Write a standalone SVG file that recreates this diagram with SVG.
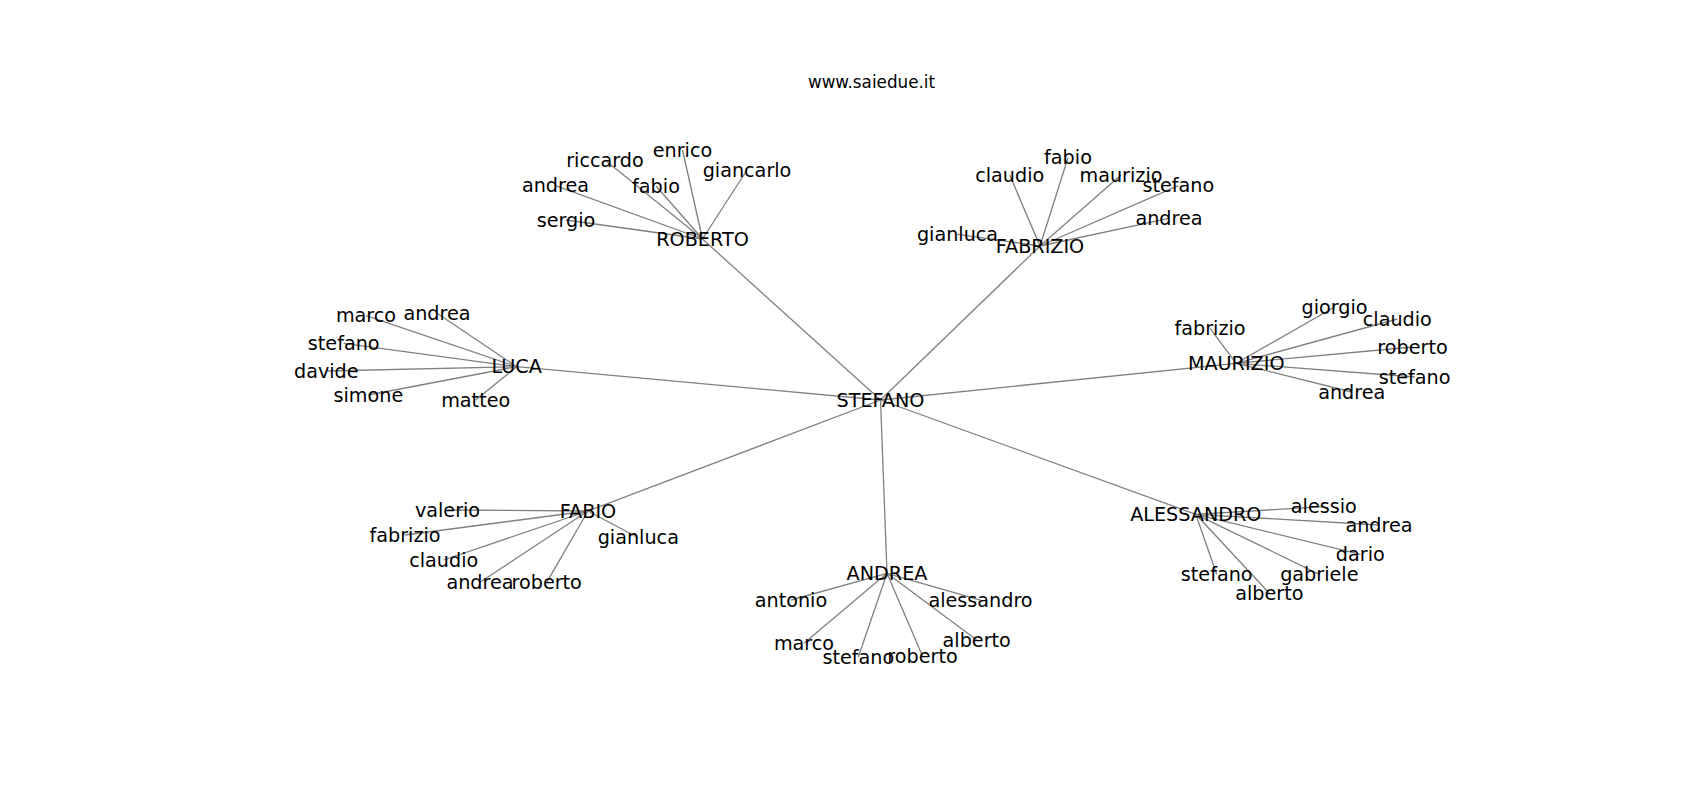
<svg xmlns="http://www.w3.org/2000/svg" width="1700" height="800" viewBox="0 0 1700 800">
<style>
.bg{fill:#ffffff}
.e{stroke:#808080;stroke-width:1.3;fill:none}
.t{font-family:"DejaVu Sans","Liberation Sans",sans-serif;font-size:19.2px;fill:#000;text-anchor:middle}
.title{font-family:"DejaVu Sans","Liberation Sans",sans-serif;font-size:16.8px;fill:#000;text-anchor:middle}
</style>
<rect class="bg" x="0" y="0" width="1700" height="800"/>
<text class="title" x="871.5" y="88">www.saiedue.it</text>
<g id="edges">
<!-- hub edges -->
<line class="e" x1="880.5" y1="400" x2="702.5" y2="239"/>
<line class="e" x1="880.5" y1="400" x2="1040" y2="246"/>
<line class="e" x1="880.5" y1="400" x2="516.7" y2="366.7"/>
<line class="e" x1="880.5" y1="400" x2="1236.2" y2="363.3"/>
<line class="e" x1="880.5" y1="400" x2="588" y2="511"/>
<line class="e" x1="880.5" y1="400" x2="887" y2="573.3"/>
<line class="e" x1="880.5" y1="400" x2="1195.8" y2="514.3"/>
<!-- ROBERTO -->
<line class="e" x1="702.5" y1="239" x2="566" y2="220"/>
<line class="e" x1="702.5" y1="239" x2="555.5" y2="185.7"/>
<line class="e" x1="702.5" y1="239" x2="605" y2="160"/>
<line class="e" x1="702.5" y1="239" x2="656" y2="186"/>
<line class="e" x1="702.5" y1="239" x2="682.5" y2="150"/>
<line class="e" x1="702.5" y1="239" x2="747" y2="170"/>
<!-- FABRIZIO -->
<line class="e" x1="1040" y1="246" x2="957.5" y2="234.3"/>
<line class="e" x1="1040" y1="246" x2="1009.7" y2="175"/>
<line class="e" x1="1040" y1="246" x2="1068" y2="157.7"/>
<line class="e" x1="1040" y1="246" x2="1121" y2="175"/>
<line class="e" x1="1040" y1="246" x2="1178.3" y2="185.7"/>
<line class="e" x1="1040" y1="246" x2="1169" y2="218.3"/>
<!-- LUCA -->
<line class="e" x1="516.7" y1="366.7" x2="366" y2="315.7"/>
<line class="e" x1="516.7" y1="366.7" x2="437" y2="313.3"/>
<line class="e" x1="516.7" y1="366.7" x2="343.7" y2="343.3"/>
<line class="e" x1="516.7" y1="366.7" x2="326.3" y2="371"/>
<line class="e" x1="516.7" y1="366.7" x2="368.4" y2="395"/>
<line class="e" x1="516.7" y1="366.7" x2="475.7" y2="400"/>
<!-- MAURIZIO -->
<line class="e" x1="1236.2" y1="363.3" x2="1210" y2="328.3"/>
<line class="e" x1="1236.2" y1="363.3" x2="1334.6" y2="307"/>
<line class="e" x1="1236.2" y1="363.3" x2="1397.3" y2="319"/>
<line class="e" x1="1236.2" y1="363.3" x2="1412.5" y2="347"/>
<line class="e" x1="1236.2" y1="363.3" x2="1414.6" y2="377"/>
<line class="e" x1="1236.2" y1="363.3" x2="1351.7" y2="392"/>
<!-- FABIO -->
<line class="e" x1="588" y1="511" x2="447.5" y2="510"/>
<line class="e" x1="588" y1="511" x2="405" y2="535"/>
<line class="e" x1="588" y1="511" x2="443.7" y2="560"/>
<line class="e" x1="588" y1="511" x2="480" y2="582.3"/>
<line class="e" x1="588" y1="511" x2="546.7" y2="582.3"/>
<line class="e" x1="588" y1="511" x2="638.3" y2="537.7"/>
<!-- ANDREA -->
<line class="e" x1="887" y1="573.3" x2="791" y2="600"/>
<line class="e" x1="887" y1="573.3" x2="980.5" y2="600"/>
<line class="e" x1="887" y1="573.3" x2="804" y2="643.3"/>
<line class="e" x1="887" y1="573.3" x2="858.3" y2="657"/>
<line class="e" x1="887" y1="573.3" x2="922.5" y2="656"/>
<line class="e" x1="887" y1="573.3" x2="976.7" y2="640"/>
<!-- ALESSANDRO -->
<line class="e" x1="1195.8" y1="514.3" x2="1323.8" y2="506.7"/>
<line class="e" x1="1195.8" y1="514.3" x2="1379" y2="525"/>
<line class="e" x1="1195.8" y1="514.3" x2="1360.3" y2="554.3"/>
<line class="e" x1="1195.8" y1="514.3" x2="1319.3" y2="574.3"/>
<line class="e" x1="1195.8" y1="514.3" x2="1216.7" y2="574.3"/>
<line class="e" x1="1195.8" y1="514.3" x2="1269.3" y2="593.3"/>
</g>
<g transform="translate(0,1.5)">
<g id="STEFANO"><text class="t" x="880.5" y="405">STEFANO</text></g>
<g id="ROBERTO"><text class="t" x="702.5" y="244">ROBERTO</text></g>
<g id="FABRIZIO"><text class="t" x="1040" y="251">FABRIZIO</text></g>
<g id="LUCA"><text class="t" x="516.7" y="371.7">LUCA</text></g>
<g id="MAURIZIO"><text class="t" x="1236.2" y="368.3">MAURIZIO</text></g>
<g id="FABIO"><text class="t" x="588" y="516">FABIO</text></g>
<g id="ANDREA"><text class="t" x="887" y="578.3">ANDREA</text></g>
<g id="ALESSANDRO"><text class="t" x="1195.8" y="519.3">ALESSANDRO</text></g>

<g id="roberto-sergio"><text class="t" x="566" y="225">sergio</text></g>
<g id="roberto-andrea"><text class="t" x="555.5" y="190.7">andrea</text></g>
<g id="roberto-riccardo"><text class="t" x="605" y="165">riccardo</text></g>
<g id="roberto-fabio"><text class="t" x="656" y="191">fabio</text></g>
<g id="roberto-enrico"><text class="t" x="682.5" y="155">enrico</text></g>
<g id="roberto-giancarlo"><text class="t" x="747" y="175">giancarlo</text></g>

<g id="fabrizio-gianluca"><text class="t" x="957.5" y="239.3">gianluca</text></g>
<g id="fabrizio-claudio"><text class="t" x="1009.7" y="180">claudio</text></g>
<g id="fabrizio-fabio"><text class="t" x="1068" y="162.7">fabio</text></g>
<g id="fabrizio-maurizio"><text class="t" x="1121" y="180">maurizio</text></g>
<g id="fabrizio-stefano"><text class="t" x="1178.3" y="190.7">stefano</text></g>
<g id="fabrizio-andrea"><text class="t" x="1169" y="223.3">andrea</text></g>

<g id="luca-marco"><text class="t" x="366" y="320.7">marco</text></g>
<g id="luca-andrea"><text class="t" x="437" y="318.3">andrea</text></g>
<g id="luca-stefano"><text class="t" x="343.7" y="348.3">stefano</text></g>
<g id="luca-davide"><text class="t" x="326.3" y="376">davide</text></g>
<g id="luca-simone"><text class="t" x="368.4" y="400">simone</text></g>
<g id="luca-matteo"><text class="t" x="475.7" y="405">matteo</text></g>

<g id="maurizio-fabrizio"><text class="t" x="1210" y="333.3">fabrizio</text></g>
<g id="maurizio-giorgio"><text class="t" x="1334.6" y="312">giorgio</text></g>
<g id="maurizio-claudio"><text class="t" x="1397.3" y="324">claudio</text></g>
<g id="maurizio-roberto"><text class="t" x="1412.5" y="352">roberto</text></g>
<g id="maurizio-stefano"><text class="t" x="1414.6" y="382">stefano</text></g>
<g id="maurizio-andrea"><text class="t" x="1351.7" y="397">andrea</text></g>

<g id="fabio-valerio"><text class="t" x="447.5" y="515">valerio</text></g>
<g id="fabio-fabrizio"><text class="t" x="405" y="540">fabrizio</text></g>
<g id="fabio-claudio"><text class="t" x="443.7" y="565">claudio</text></g>
<g id="fabio-andrea"><text class="t" x="480" y="587.3">andrea</text></g>
<g id="fabio-roberto"><text class="t" x="546.7" y="587.3">roberto</text></g>
<g id="fabio-gianluca"><text class="t" x="638.3" y="542.7">gianluca</text></g>

<g id="andrea-antonio"><text class="t" x="791" y="605">antonio</text></g>
<g id="andrea-alessandro"><text class="t" x="980.5" y="605">alessandro</text></g>
<g id="andrea-marco"><text class="t" x="804" y="648.3">marco</text></g>
<g id="andrea-stefano"><text class="t" x="858.3" y="662">stefano</text></g>
<g id="andrea-roberto"><text class="t" x="922.5" y="661">roberto</text></g>
<g id="andrea-alberto"><text class="t" x="976.7" y="645">alberto</text></g>

<g id="alessandro-alessio"><text class="t" x="1323.8" y="511.7">alessio</text></g>
<g id="alessandro-andrea"><text class="t" x="1379" y="530">andrea</text></g>
<g id="alessandro-dario"><text class="t" x="1360.3" y="559.3">dario</text></g>
<g id="alessandro-gabriele"><text class="t" x="1319.3" y="579.3">gabriele</text></g>
<g id="alessandro-stefano"><text class="t" x="1216.7" y="579.3">stefano</text></g>
<g id="alessandro-alberto"><text class="t" x="1269.3" y="598.3">alberto</text></g>
</g>
</svg>
